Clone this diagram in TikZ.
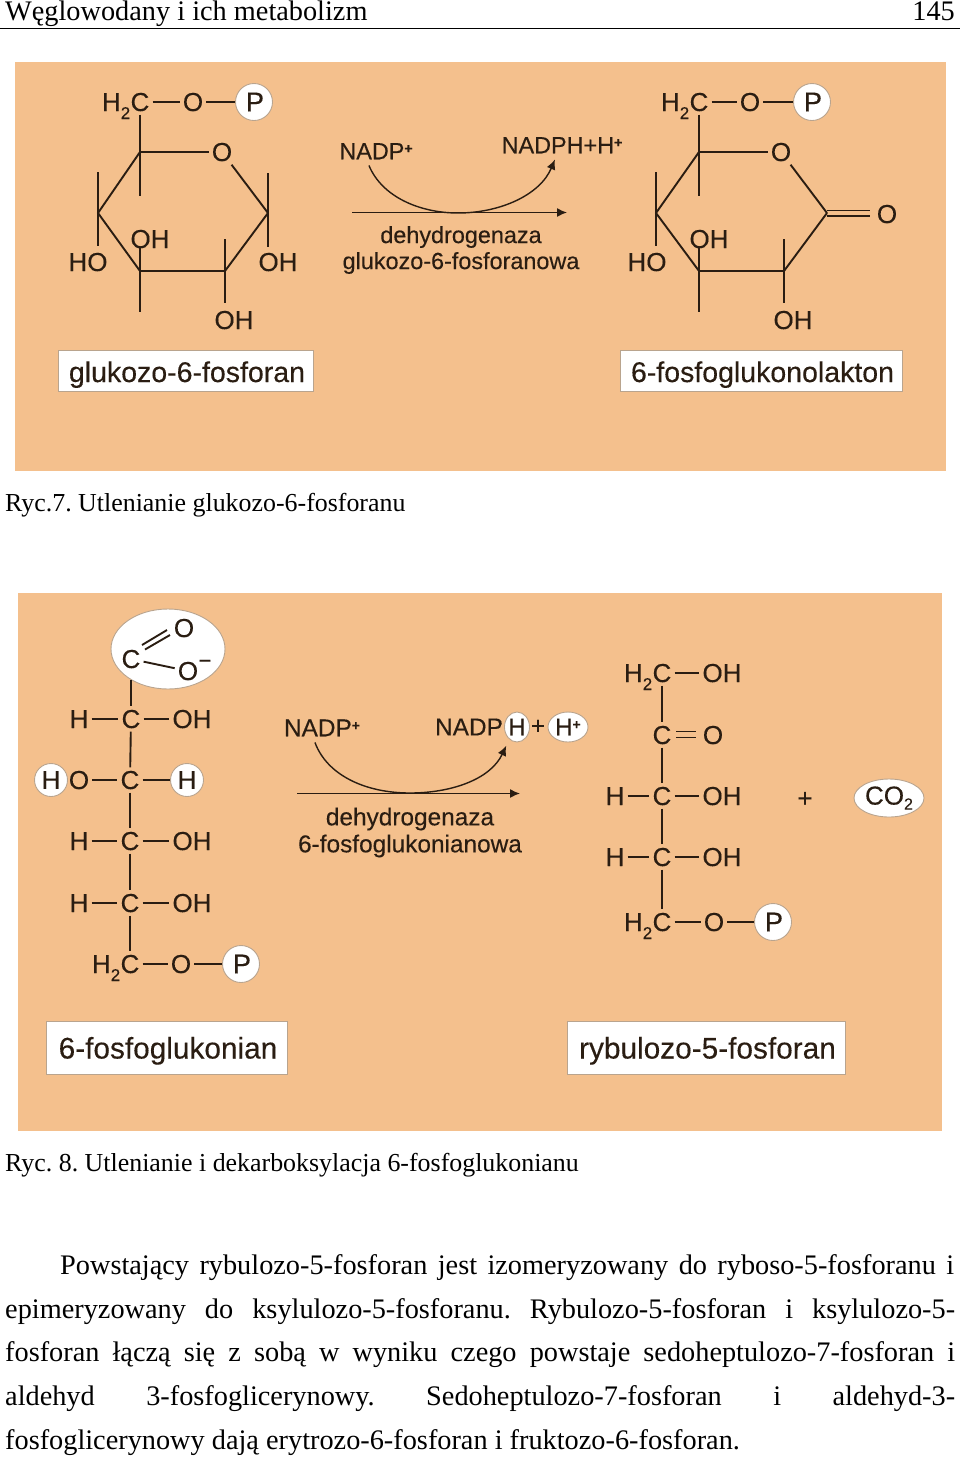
\documentclass[tikz,border=0pt]{standalone}
\usepackage{fontspec}
\setmainfont{Liberation Serif}
\newfontfamily\chemfont[FakeBold=0.25]{Liberation Sans}
\usetikzlibrary{shapes.geometric,arrows.meta}
\definecolor{panelcol}{HTML}{F4C08D}
\definecolor{inkcol}{HTML}{2A1D12}
\definecolor{rimcol}{HTML}{B9A48E}
\newcommand\subtwo{\raisebox{-8pt}{\fontsize{17}{17}\selectfont 2}}
\newcommand\supplus{\raisebox{6pt}{\fontsize{14}{14}\selectfont\textbf{+}}}
\tikzset{
  atom/.style={font=\chemfont\fontsize{26}{26}\selectfont,text=inkcol,inner xsep=3pt,inner ysep=3.5pt,text height=18pt,text depth=0pt},
  hyd/.style={atom,anchor=east,inner xsep=0pt,xshift=3pt},
  bond/.style={draw=inkcol,line width=1.9pt},
  phos/.style={circle,draw=rimcol,fill=white,line width=.9pt,minimum size=37pt,inner sep=0pt,text=inkcol,font=\chemfont\fontsize{27}{27}\selectfont},
  blob/.style={ellipse,draw=rimcol,fill=white,line width=.9pt,inner sep=0pt,text=inkcol},
  namebox/.style={draw=rimcol,fill=white,line width=.9pt,text=inkcol,inner sep=0pt,text height=24.5pt,text depth=2.5pt,execute at begin node=\hspace*{3pt}},
  enz/.style={font=\chemfont\fontsize{23.4}{23.4}\selectfont,text=inkcol,inner sep=1pt},
  enzb/.style={enz,font=\chemfont\fontsize{24.4}{24.4}\selectfont},
  nadp/.style={text=inkcol,inner xsep=1pt,inner ysep=6pt,text height=16.5pt,text depth=0pt},
  reac/.style={draw=inkcol,line width=1.4pt},
  tip/.style={-{Latex[length=10pt,width=9pt]}},
  plain/.style={font=\frenchspacing\fontsize{28.3}{28.3}\selectfont,anchor=base west,inner sep=0pt,text=black},
  capt/.style={plain,font=\frenchspacing\fontsize{25.9}{25.9}\selectfont}
}
\begin{document}
\begin{tikzpicture}[x=1pt,y=-1pt]
\useasboundingbox (0,0) rectangle (960,1460);
\node[plain] (head) at (5,20) {Węglowodany i ich metabolizm};
\node[plain,anchor=base east] (page) at (955,20) {145};
\coordinate (rulea) at (0,28.5);
\coordinate (ruleb) at (960,28.5);
\draw[black,line width=1.2pt] (rulea) -- (ruleb);
\fill[panelcol] (15,62) rectangle (946,471);
\fill[panelcol] (18,593) rectangle (942,1131);

\node[atom] (ac) at (140,102) {C};
\node[hyd] (ah) at (ac.west) {H\subtwo};
\node[atom] (ao) at (193,102) {O};
\node[phos] (ap) at (254,102) {\kern2pt P};
\node[atom] (ar) at (222,152) {O};
\node[atom] (aho) at (88,262) {HO};
\node[atom] (aoha) at (150,239) {OH};
\node[atom] (aohb) at (278,262) {OH};
\node[atom] (aohc) at (234,320) {OH};
\coordinate (a5) at (140,152);
\coordinate (a4) at (98,213);
\coordinate (a3) at (140,271);
\coordinate (a2) at (225,271);
\coordinate (a1) at (268,213);
\coordinate (a5e) at (140,196);
\coordinate (a4t) at (98,172);
\coordinate (a4e) at (98,246);
\coordinate (a3t) at (140,248);
\coordinate (a3e) at (140,312);
\coordinate (a2t) at (225,239);
\coordinate (a2e) at (225,303);
\coordinate (a1t) at (268,173);
\coordinate (a1e) at (268,247);
\draw[bond] (ac) -- (ao);
\draw[bond] (ao) -- (ap);
\draw[bond] (ac) -- (a5e);
\draw[bond] (a5) -- (ar);
\draw[bond] (ar) -- (a1);
\draw[bond] (a1) -- (a2) -- (a3) -- (a4) -- (a5);
\draw[bond] (a4t) -- (a4e);
\draw[bond] (a3t) -- (a3e);
\draw[bond] (a2t) -- (a2e);
\draw[bond] (a1t) -- (a1e);
\node[namebox,minimum width=255pt,minimum height=41pt,font=\chemfont\fontsize{28.5}{28.5}\selectfont] (aname) at (185.5,371) {glukozo-6-fosforan};

\node[enz,nadp] (na) at (376,151) {NADP\supplus};
\node[enz,nadp] (nb) at (562,145) {NADPH+H\supplus};
\node[enz] (ea) at (461,237) {dehydrogenaza};
\node[enz] (eb) at (461,263) {glukozo-6-fosforanowa};
\coordinate (la) at (352,212.5);
\coordinate (lb) at (567,212.5);
\coordinate (lm) at (458,213);
\draw[reac,tip] (la) -- (lb);
\draw[reac,tip] (na.-116) .. controls (382,197) and (420,213) .. (lm) .. controls (500,213) and (540,195) .. (nb.-116);

\node[atom] (bc) at (699,102) {C};
\node[hyd] (bh) at (bc.west) {H\subtwo};
\node[atom] (bo) at (750,102) {O};
\node[phos] (bp) at (812,102) {\kern2pt P};
\node[atom] (br) at (781,152) {O};
\node[atom] (bket) at (887,214) {O};
\node[atom] (bho) at (647,262) {HO};
\node[atom] (boha) at (709,239) {OH};
\node[atom] (bohc) at (793,320) {OH};
\coordinate (b5) at (699,152);
\coordinate (b4) at (656,213);
\coordinate (b3) at (699,271);
\coordinate (b2) at (784,271);
\coordinate (b1) at (827,213);
\coordinate (b1u) at (827,210.5);
\coordinate (b1d) at (827,216);
\coordinate (bku) at (870,210.5);
\coordinate (bkd) at (870,216);
\coordinate (b5e) at (699,196);
\coordinate (b4t) at (656,172);
\coordinate (b4e) at (656,246);
\coordinate (b3t) at (699,248);
\coordinate (b3e) at (699,312);
\coordinate (b2t) at (784,239);
\coordinate (b2e) at (784,303);
\draw[bond] (bc) -- (bo);
\draw[bond] (bo) -- (bp);
\draw[bond] (bc) -- (b5e);
\draw[bond] (b5) -- (br);
\draw[bond] (br) -- (b1);
\draw[bond] (b1) -- (b2) -- (b3) -- (b4) -- (b5);
\draw[bond] (b1u) -- (bku);
\draw[bond] (b1d) -- (bkd);
\draw[bond] (b4t) -- (b4e);
\draw[bond] (b3t) -- (b3e);
\draw[bond] (b2t) -- (b2e);
\node[namebox,minimum width=282pt,minimum height=41pt,font=\chemfont\fontsize{28.5}{28.5}\selectfont] (bname) at (761,371) {6-fosfoglukonolakton};

\node[capt] (capa) at (5,511) {Ryc.7. Utlenianie glukozo-6-fosforanu};

\node[blob,minimum width=114pt,minimum height=80pt] (cring) at (168,649) {};
\node[atom] (cc) at (131,659) {C};
\node[atom] (coa) at (184,628) {O};
\node[atom] (cob) at (188,671) {O};
\node[font=\chemfont\fontsize{22}{22}\selectfont,text=inkcol,inner sep=0pt] (cmin) at (205,664) {−};
\coordinate (cdau) at (142,645);
\coordinate (cdav) at (167,630);
\coordinate (cdbu) at (145,649.5);
\coordinate (cdbv) at (170,635);
\draw[bond] (cdau) -- (cdav);
\draw[bond] (cdbu) -- (cdbv);
\draw[bond] (cc) -- (cob);
\coordinate (cbot) at (131,680);
\node[atom] (c1) at (131,719) {C};
\node[atom] (c1l) at (79,719) {H};
\node[atom] (c1r) at (192,719) {OH};
\node[atom] (c2) at (130,780) {C};
\node[atom] (c2l) at (79,780) {O};
\node[phos,minimum size=33pt,font=\chemfont\fontsize{26}{26}\selectfont] (c2h) at (51,780) {H};
\node[phos,minimum size=33pt,font=\chemfont\fontsize{26}{26}\selectfont] (c2r) at (187,780) {H};
\node[atom] (c3) at (130,841) {C};
\node[atom] (c3l) at (79,841) {H};
\node[atom] (c3r) at (192,841) {OH};
\node[atom] (c4) at (130,903) {C};
\node[atom] (c4l) at (79,903) {H};
\node[atom] (c4r) at (192,903) {OH};
\node[atom] (c5) at (130,964) {C};
\node[hyd] (c5h) at (c5.west) {H\subtwo};
\node[atom] (c5o) at (181,964) {O};
\node[phos] (c5p) at (241,964) {\kern2pt P};
\draw[bond] (cbot) -- (c1);
\draw[bond] (c1) -- (c2);
\draw[bond] (c2) -- (c3);
\draw[bond] (c3) -- (c4);
\draw[bond] (c4) -- (c5);
\draw[bond] (c1l) -- (c1);
\draw[bond] (c1) -- (c1r);
\draw[bond] (c2l) -- (c2);
\draw[bond] (c2) -- (c2r);
\draw[bond] (c3l) -- (c3);
\draw[bond] (c3) -- (c3r);
\draw[bond] (c4l) -- (c4);
\draw[bond] (c4) -- (c4r);
\draw[bond] (c5) -- (c5o);
\draw[bond] (c5o) -- (c5p);
\node[namebox,minimum width=241pt,minimum height=53pt,font=\chemfont\fontsize{29.8}{29.8}\selectfont] (cname) at (166.5,1047.5) {6-fosfoglukonian};

\node[enzb,nadp] (da) at (322,728) {NADP\supplus};
\node[enzb] (db) at (469,727) {NADP};
\node[blob,minimum width=25pt,minimum height=30pt,font=\chemfont\fontsize{24}{24}\selectfont] (dh) at (517,727) {H};
\node[enzb] (dp) at (538,727) {+};
\node[blob,minimum width=40pt,minimum height=30pt,font=\chemfont\fontsize{24}{24}\selectfont] (dq) at (568,727) {H\supplus};
\node[enzb] (fa) at (410,819) {dehydrogenaza};
\node[enzb] (fb) at (410,846) {6-fosfoglukonianowa};
\coordinate (ma) at (297,793.5);
\coordinate (mb) at (520,793.5);
\coordinate (mm) at (410,793);
\draw[reac,tip] (ma) -- (mb);
\draw[reac,tip,shorten >=7pt] (da.-116) .. controls (327,775) and (365,793) .. (mm) .. controls (450,793) and (490,780) .. (dh.-122);

\node[atom] (e1) at (662,673) {C};
\node[hyd] (e1h) at (e1.west) {H\subtwo};
\node[atom] (e1r) at (722,673) {OH};
\node[atom] (e2) at (662,735) {C};
\node[atom] (e2o) at (713,735) {O};
\coordinate (e2u) at (676,731.5);
\coordinate (e2v) at (696,731.5);
\coordinate (e2s) at (676,737.5);
\coordinate (e2t) at (696,737.5);
\node[atom] (e3) at (662,796) {C};
\node[atom] (e3l) at (615,796) {H};
\node[atom] (e3r) at (722,796) {OH};
\node[atom] (e4) at (662,857) {C};
\node[atom] (e4l) at (615,857) {H};
\node[atom] (e4r) at (722,857) {OH};
\node[atom] (e5) at (662,922) {C};
\node[hyd] (e5h) at (e5.west) {H\subtwo};
\node[atom] (e5o) at (714,922) {O};
\node[phos] (e5p) at (773,922) {\kern2pt P};
\draw[bond] (e1) -- (e2);
\draw[bond] (e2) -- (e3);
\draw[bond] (e3) -- (e4);
\draw[bond] (e4) -- (e5);
\draw[bond] (e1) -- (e1r);
\draw[bond] (e2u) -- (e2v);
\draw[bond] (e2s) -- (e2t);
\draw[bond] (e3l) -- (e3);
\draw[bond] (e3) -- (e3r);
\draw[bond] (e4l) -- (e4);
\draw[bond] (e4) -- (e4r);
\draw[bond] (e5) -- (e5o);
\draw[bond] (e5o) -- (e5p);
\node[atom] (eplus) at (805,798) {+};
\node[blob,minimum width=70pt,minimum height=38pt,font=\chemfont\fontsize{26}{26}\selectfont] (eco) at (889,798) {CO\raisebox{-5pt}{\fontsize{16}{16}\selectfont 2}};
\node[namebox,minimum width=278pt,minimum height=53pt,font=\chemfont\fontsize{29.8}{29.8}\selectfont] (ename) at (706,1047.5) {rybulozo-5-fosforan};

\node[capt] (capb) at (5,1171) {Ryc. 8. Utlenianie i dekarboksylacja 6-fosfoglukonianu};
\node[plain] (ta) at (60,1274) {\makebox[894pt][s]{Powstający rybulozo-5-fosforan jest izomeryzowany do ryboso-5-fosforanu i}};
\node[plain] (tb) at (5,1318) {\makebox[950pt][s]{epimeryzowany do ksylulozo-5-fosforanu. Rybulozo-5-fosforan i ksylulozo-5-}};
\node[plain] (tc) at (5,1361) {\makebox[950pt][s]{fosforan łączą się z sobą w wyniku czego powstaje sedoheptulozo-7-fosforan i}};
\node[plain] (td) at (5,1405) {\makebox[950pt][s]{aldehyd 3-fosfoglicerynowy. Sedoheptulozo-7-fosforan i aldehyd-3-}};
\node[plain] (te) at (5,1449) {fosfoglicerynowy dają erytrozo-6-fosforan i fruktozo-6-fosforan.};
\end{tikzpicture}
\end{document}
